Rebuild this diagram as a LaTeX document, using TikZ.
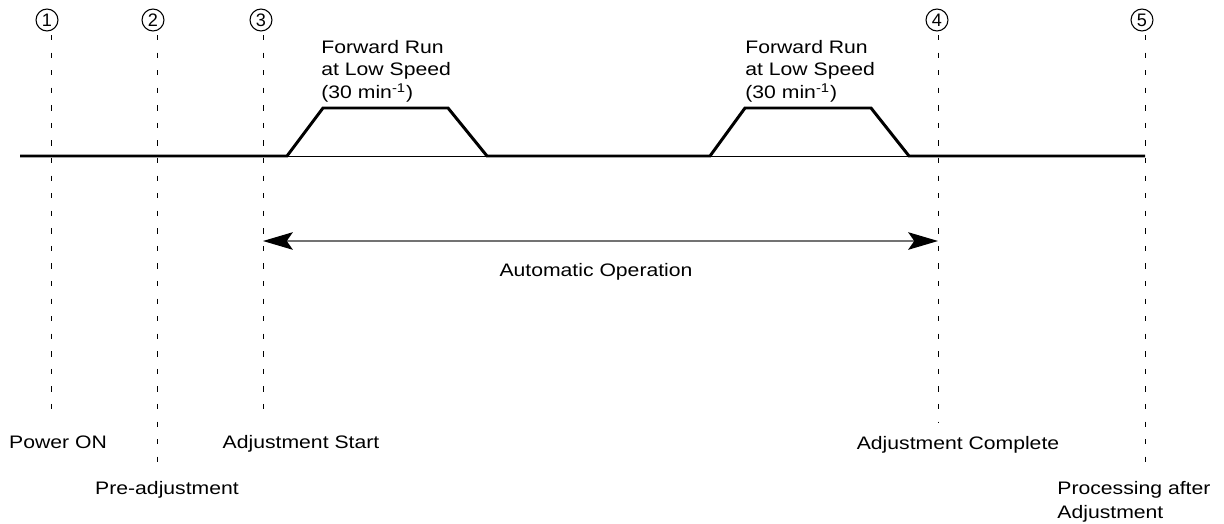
\documentclass[tikz,border=0pt]{standalone}
\usepackage{fontspec}
\setmainfont{Liberation Sans}
\usetikzlibrary{arrows.meta}

\begin{document}
\begin{tikzpicture}[
  x=0.02cm, y=-0.02cm,
  >={Stealth[length=17pt, width=10pt, inset=3.5pt]},
  every node/.style={font=\fontsize{10.3}{12.8}\selectfont, inner sep=0pt},
  wide/.style={xscale=1.17},
  marker/.style={circle, draw, line width=0.6pt, minimum size=12.5pt},
  guide/.style={line width=0.5pt, dash pattern=on 3pt off 7pt},
  run/.style={line width=1.7pt, line join=miter},
  baseline/.style={line width=0.5pt},
  span/.style={line width=0.8pt, black!55}
]

\useasboundingbox (0,0) rectangle (1224,524);

% ── Numbered steps with dashed guide lines ──
\foreach \n/\x/\xc/\yb in {1/51/47/420, 2/157/153/468, 3/263/261/418, 4/938/937/423, 5/1145/1142/465} {
  \node[marker] (m\n) at (\xc,20) {\n};
  \coordinate (t\n) at (\x,35);
  \coordinate (b\n) at (\x,\yb);
  \draw[guide] (t\n) -- (b\n);
}

% ── Speed profile ──
\draw[baseline] (287,156) -- (487,156);
\draw[baseline] (710,156) -- (909,156);
\draw[run] (20,156) -- (287,156) -- (323,108) -- (448,108) -- (487,156)
  -- (710,156) -- (745,108) -- (871,108) -- (909,156) -- (b5 |- 0,156);

\node[wide, anchor=north west, align=left] (fwd1) at (321,40)
  {Forward Run\\at Low Speed\\(30 min\textsuperscript{-1})};
\node[wide, anchor=north west, align=left] (fwd2) at (745,40)
  {Forward Run\\at Low Speed\\(30 min\textsuperscript{-1})};

% ── Automatic operation span ──
\coordinate (autoL) at (t3 |- 0,241);
\coordinate (autoR) at (t4 |- 0,241);
\draw[span, <->, >={Stealth[length=17pt, width=10pt, inset=3.5pt, black]}] (autoL) -- (autoR);
\node[wide, anchor=base] (auto) at (596,276) {Automatic Operation};

% ── Step labels ──
\node[wide, anchor=base] (lbl1) at (58,448) {Power ON};
\node[wide, anchor=base] (lbl2) at (167,494) {Pre-adjustment};
\node[wide, anchor=base] (lbl3) at (301,448) {Adjustment Start};
\node[wide, anchor=base] (lbl4) at (958,449) {Adjustment Complete};
\node[wide, anchor=north west, align=left, font=\fontsize{10.3}{13.6}\selectfont] (lbl5) at (1057,481)
  {Processing after\\Adjustment};

\end{tikzpicture}
\end{document}
